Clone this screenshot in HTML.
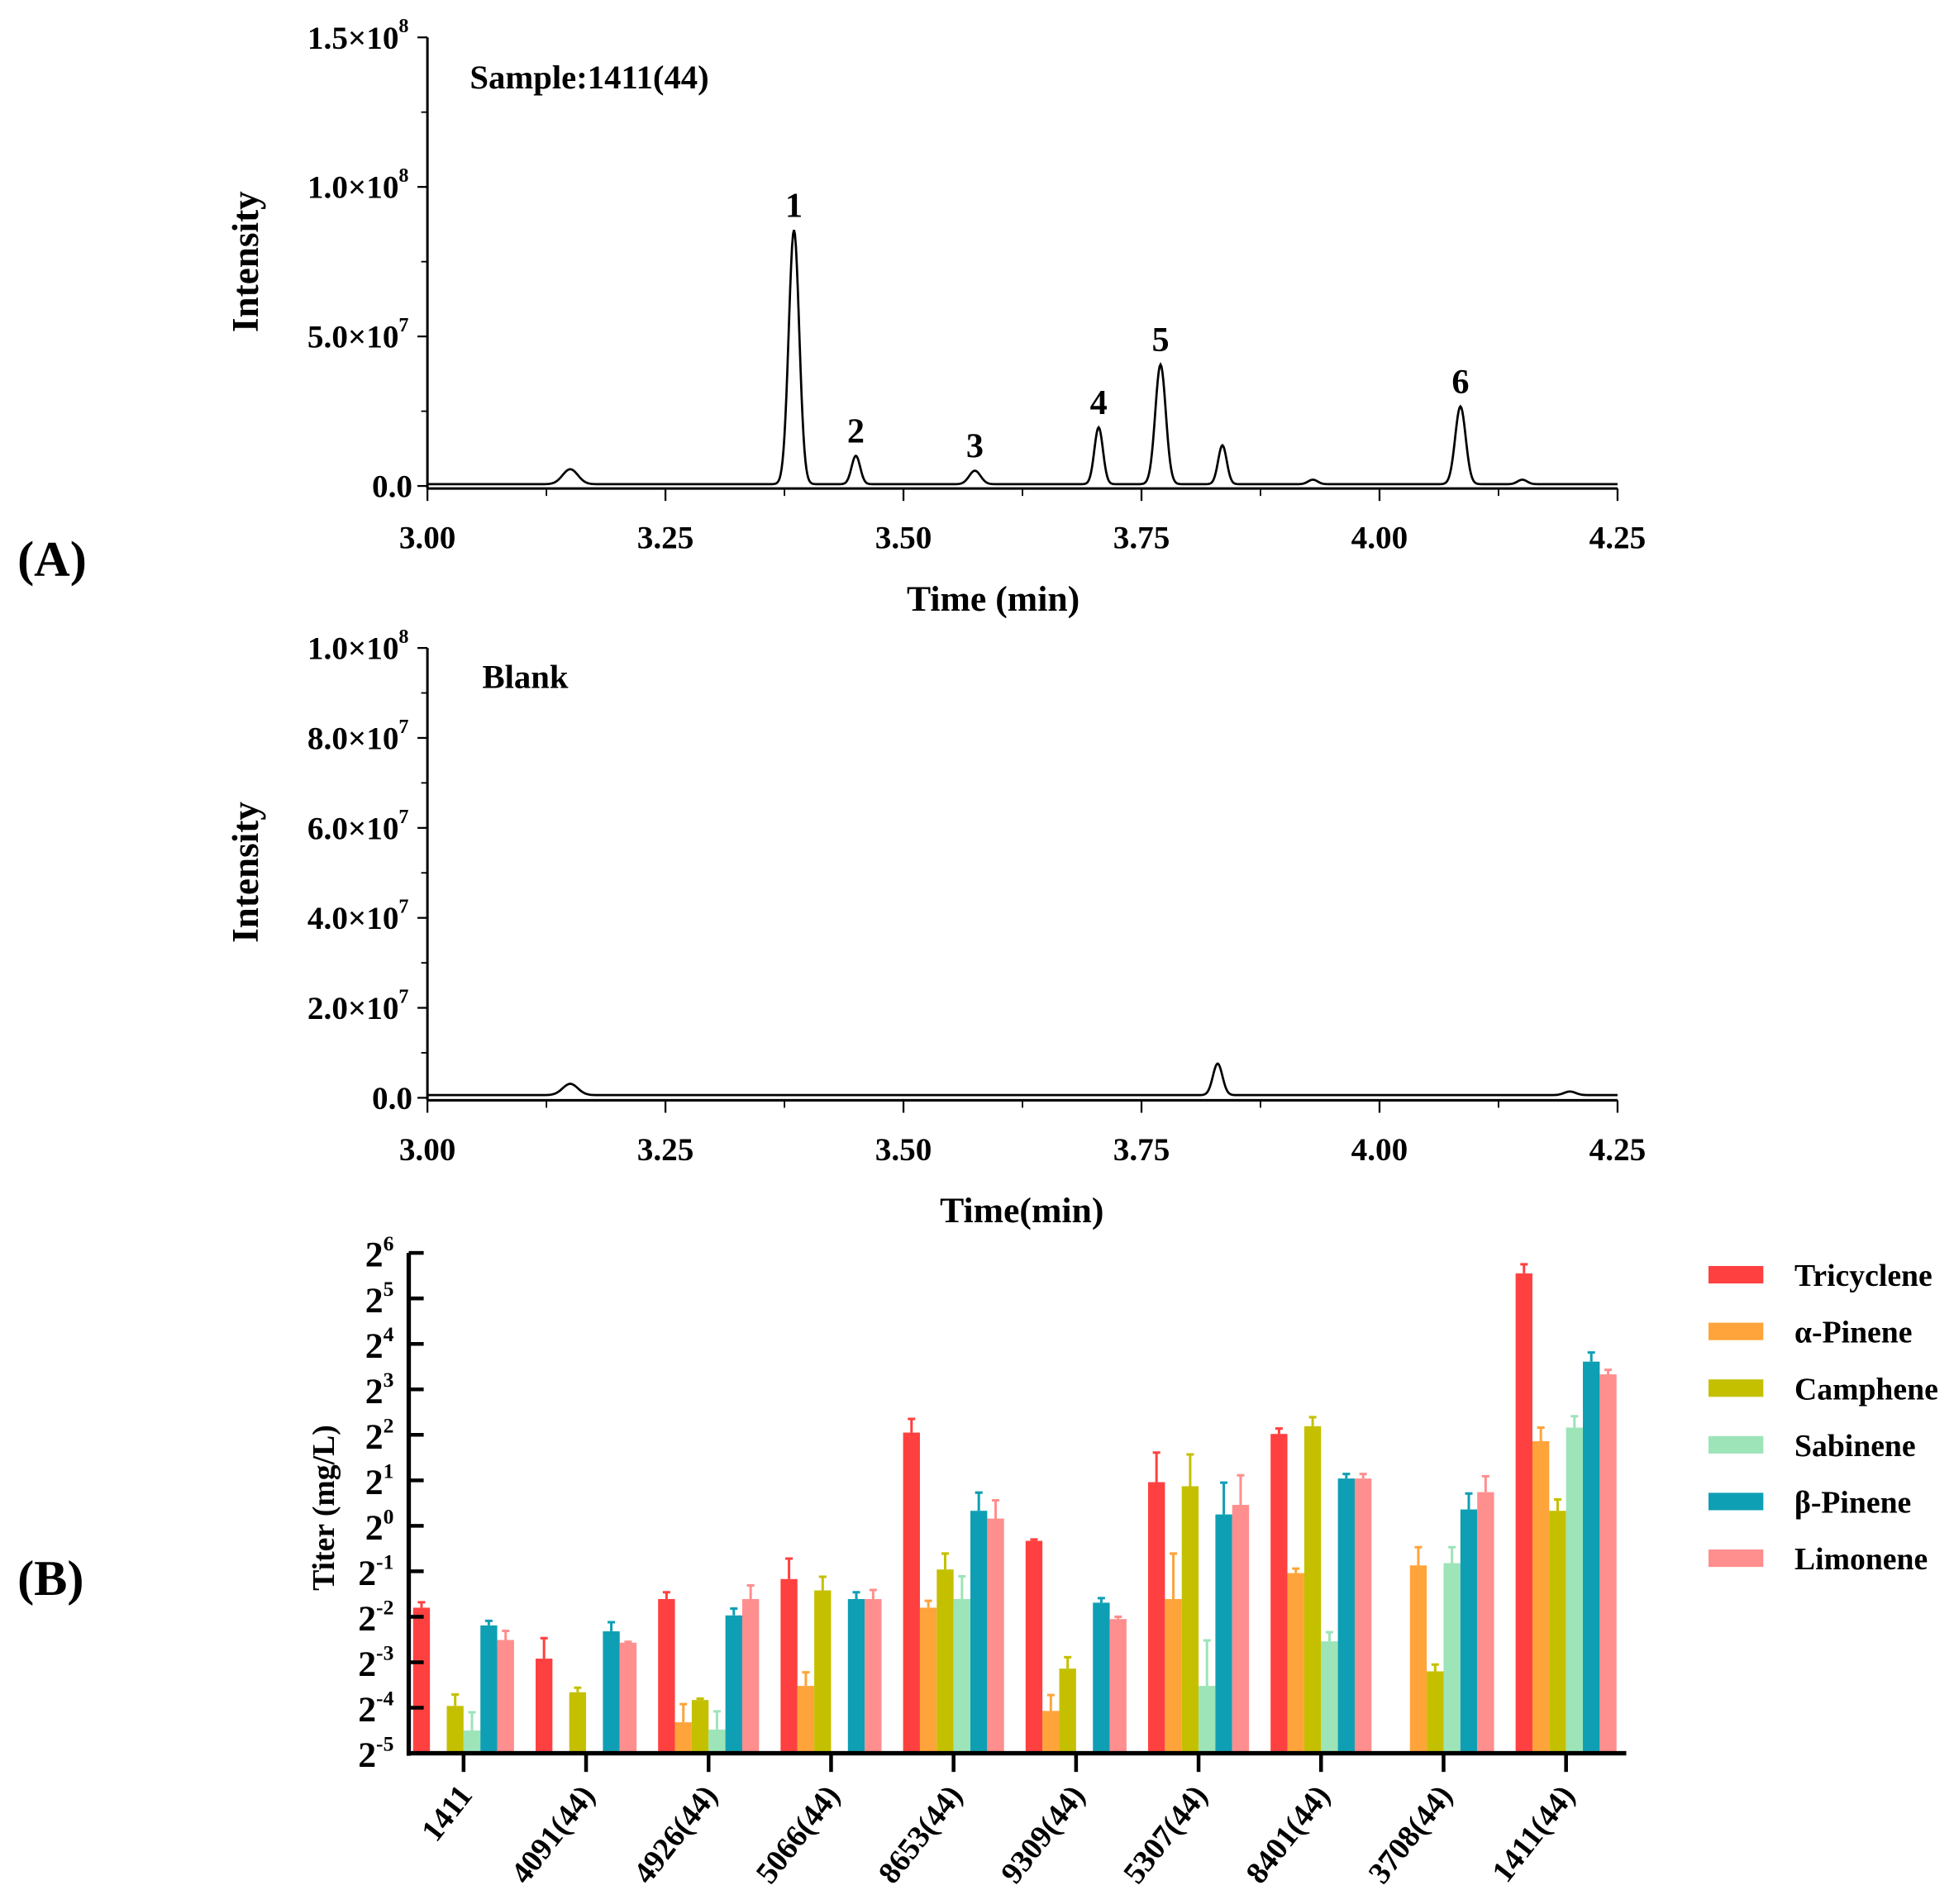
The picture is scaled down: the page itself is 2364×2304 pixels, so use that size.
<!DOCTYPE html>
<html><head><meta charset="utf-8"><style>
html,body{margin:0;padding:0;background:#fff;}
svg{display:block;font-family:"Liberation Serif",serif;font-weight:bold;}
</style></head><body>
<svg id="fig" width="2364" height="2304" viewBox="0 0 1568 1528" preserveAspectRatio="none" xmlns="http://www.w3.org/2000/svg">
<rect width="1568" height="1528" fill="#fff"/>
<text x="14" y="462" font-size="40">(A)</text>
<text x="14" y="1280" font-size="40">(B)</text>
<g id="a1"></g>
<g id="a2"></g>
<g id="b"></g>
</svg>
<script>
// ---- Chromatogram data ----
const sampleTimes = [3.15, 3.385, 3.45, 3.575, 3.705, 3.77, 3.835, 3.93, 4.085, 4.15];
const sampleHeights = [0.5, 8.5, 0.95, 0.45, 1.9, 4.0, 1.3, 0.15, 2.6, 0.15]; // x1e7
const sampleWidths = [0.008, 0.0055, 0.0045, 0.006, 0.0045, 0.0055, 0.0045, 0.005, 0.0055, 0.005];
const peakLabels = ["", "1", "2", "3", "4", "5", "", "", "6", ""];
const blankTimes = [3.15, 3.83, 4.2];
const blankHeights = [0.25, 0.7, 0.08];
const blankWidths = [0.008, 0.005, 0.006];
const xTicksA = [3.00, 3.25, 3.50, 3.75, 4.00, 4.25];
const yTicksA1 = [0, 5, 10, 15];
const yTickLabelsA1 = ["0.0", "5.0×10", "1.0×10", "1.5×10"];
const yTickExpA1 = ["", "7", "8", "8"];
const yTicksA2 = [0, 2, 4, 6, 8, 10];
const yTickLabelsA2 = ["0.0", "2.0×10", "4.0×10", "6.0×10", "8.0×10", "1.0×10"];
const yTickExpA2 = ["", "7", "7", "7", "7", "8"];

// ---- Bar chart data (log2 values) ----
const categories = ["1411","4091(44)","4926(44)","5066(44)","8653(44)","9309(44)","5307(44)","8401(44)","3708(44)","1411(44)"];
const seriesNames = ["Tricyclene","α-Pinene","Camphene","Sabinene","β-Pinene","Limonene"];
const seriesColors = ["#ff4040","#ffa43a","#c4c000","#9de4b8","#0f9fb4","#ff8e8e"];
const tricyclene = [-1.8,-2.92,-1.61,-1.17,2.05,-0.33,0.96,2.02,null,5.55];
const aPinene = [null,null,-4.32,-3.52,-1.8,-4.07,-1.61,-1.04,-0.87,1.86];
const camphene = [-3.96,-3.66,-3.83,-1.42,-0.96,-3.14,0.87,2.19,-3.2,0.33];
const sabinene = [-4.5,null,-4.48,null,-1.61,null,-3.52,-2.54,-0.82,2.16];
const bPinene = [-2.19,-2.32,-1.97,-1.61,0.33,-1.69,0.25,1.04,0.36,3.61];
const limonene = [-2.51,-2.57,-1.61,-1.61,0.16,-2.05,0.46,1.04,0.74,3.33];
const errTricyclene = [0.12,0.45,0.15,0.45,0.3,0.03,0.65,0.12,0,0.2];
const errAPinene = [0,0,0.4,0.3,0.15,0.35,1.0,0.1,0.4,0.3];
const errCamphene = [0.25,0.1,0.03,0.3,0.35,0.25,0.7,0.2,0.15,0.25];
const errSabinene = [0.4,0,0.4,0,0.5,0,1.0,0.2,0.35,0.25];
const errBPinene = [0.1,0.2,0.15,0.15,0.4,0.1,0.7,0.1,0.35,0.2];
const errLimonene = [0.2,0.02,0.3,0.2,0.4,0.05,0.65,0.1,0.35,0.1];
const yTicksB = [-5,-4,-3,-2,-1,0,1,2,3,4,5,6];

const NS="http://www.w3.org/2000/svg";
function mk(parent,tag,attrs,text){const e=document.createElementNS(NS,tag);for(const k in attrs)e.setAttribute(k,attrs[k]);if(text!==undefined)e.textContent=text;parent.appendChild(e);return e;}

function chrom(g,cfg){
  const X=t=>cfg.x0+(t-3)/(1.25)*(cfg.x1-cfg.x0);
  const Y=v=>cfg.y0-v/cfg.vmax*(cfg.y0-cfg.ytop);
  let ax=mk(g,'line',{x1:cfg.x0,y1:cfg.ytop,x2:cfg.x0,y2:cfg.y0+2,stroke:'#000','stroke-width':2});
  
  let bx=mk(g,'line',{x1:cfg.x0,y1:cfg.y0+2,x2:cfg.x1,y2:cfg.y0+2,stroke:'#000','stroke-width':2});
  
  for(let i=0;i<cfg.xt.length;i++){
    const x=X(cfg.xt[i]);
    mk(g,'line',{x1:x,y1:cfg.y0+2,x2:x,y2:cfg.y0+12,stroke:'#000','stroke-width':1.5});
    if(i<cfg.xt.length-1){const xm=X(cfg.xt[i]+0.125);mk(g,'line',{x1:xm,y1:cfg.y0+2,x2:xm,y2:cfg.y0+8,stroke:'#000','stroke-width':1.2});}
    const t=mk(g,'text',{x:x,y:cfg.y0+50,'font-size':26,'text-anchor':'middle'},cfg.xt[i].toFixed(2));
    
  }
  for(let i=0;i<cfg.yt.length;i++){
    const y=Y(cfg.yt[i]);
    mk(g,'line',{x1:cfg.x0-8,y1:y,x2:cfg.x0,y2:y,stroke:'#000','stroke-width':1.5});
    if(i<cfg.yt.length-1){const ym=Y((cfg.yt[i]+cfg.yt[i+1])/2);mk(g,'line',{x1:cfg.x0-5,y1:ym,x2:cfg.x0,y2:ym,stroke:'#000','stroke-width':1.2});}
    const t=mk(g,'text',{x:cfg.x0-12-(cfg.ye[i]?11:0),y:y+9,'font-size':26,'text-anchor':'end'},cfg.yl[i]);
    
    if(cfg.ye[i]){const s=mk(g,'text',{x:cfg.x0-23,y:y-4,'font-size':16},cfg.ye[i]);}
  }
  let d='';
  for(let t=3;t<=4.2501;t+=0.001){
    let v=cfg.base;
    for(let k=0;k<cfg.times.length;k++){const z=(t-cfg.times[k])/cfg.widths[k];v+=cfg.heights[k]*Math.exp(-0.5*z*z);}
    d+=(d?'L':'M')+X(t).toFixed(2)+' '+Y(v).toFixed(2);
  }
  const p=mk(g,'path',{d:d,fill:'none',stroke:'#000','stroke-width':1.8});
  
  if(cfg.labels){for(let k=0;k<cfg.times.length;k++){if(!cfg.labels[k])continue;
    const t=mk(g,'text',{x:X(cfg.times[k]),y:Y(cfg.heights[k])-12,'font-size':28,'text-anchor':'middle'},cfg.labels[k]);
    }}
  const tt=mk(g,'text',{x:cfg.tx,y:cfg.y0+100,'font-size':29,'text-anchor':'middle'},cfg.xtitle);
  
  const yt=mk(g,'text',{x:0,y:0,'font-size':30,'text-anchor':'middle',transform:`translate(207,${cfg.ymid}) rotate(-90)`},'Intensity');
  
  const ti=mk(g,'text',{x:cfg.titleX,y:cfg.titleY,'font-size':27},cfg.title);
  
}
chrom(document.getElementById('a1'),{x0:343,x1:1298,y0:390,ytop:30,vmax:15,base:0.06,times:sampleTimes,heights:sampleHeights,widths:sampleWidths,labels:peakLabels,xt:xTicksA,yt:yTicksA1,yl:yTickLabelsA1,ye:yTickExpA1,xtitle:'Time (min)',tx:797,ymid:210,title:'Sample:1411(44)',titleX:377,titleY:71});
chrom(document.getElementById('a2'),{x0:343,x1:1298,y0:881,ytop:520,vmax:10,base:0.06,times:blankTimes,heights:blankHeights,widths:blankWidths,labels:null,xt:xTicksA,yt:yTicksA2,yl:yTickLabelsA2,ye:yTickExpA2,xtitle:'Time(min)',tx:820,ymid:700,title:'Blank',titleX:387,titleY:552});

(function(){
  const g=document.getElementById('b');
  const x0=328,x1=1305,y0=1407,step=36.5,cx0=372,cstep=98.3,bw=13.5;
  const Y=k=>y0-(k+5)*step;
  const CX=i=>cx0+i*cstep;
  const series=[tricyclene,aPinene,camphene,sabinene,bPinene,limonene];
  const errs=[errTricyclene,errAPinene,errCamphene,errSabinene,errBPinene,errLimonene];
  for(let i=0;i<categories.length;i++){
    for(let s=0;s<series.length;s++){
      const v=series[s][i]; if(v===null) continue;
      const x=CX(i)-3*bw+s*bw;
      const r=mk(g,'rect',{x:x,y:Y(v),width:bw,height:y0-Y(v),fill:seriesColors[s]});
      
      
      const e=errs[s][i];
      if(e>0){const xc=x+bw/2;
        const l=mk(g,'path',{d:`M${xc} ${Y(v)}V${Y(v+e)}M${xc-3} ${Y(v+e)}H${xc+3}`,stroke:seriesColors[s],'stroke-width':2,fill:'none'});
        }
    }
  }
  const ya=mk(g,'line',{x1:x0,y1:Y(6),x2:x0,y2:y0+2,stroke:'#000','stroke-width':3.5});
  
  const xa=mk(g,'line',{x1:x0-1.5,y1:y0,x2:x1,y2:y0,stroke:'#000','stroke-width':3.5});
  
  for(const k of yTicksB){
    const y=Y(k);
    mk(g,'line',{x1:x0,y1:y,x2:x0+12,y2:y,stroke:'#000','stroke-width':3});
    const t=mk(g,'text',{x:316,y:y+11,'font-size':29,'text-anchor':'end'});
    
    mk(t,'tspan',{},'2');
    mk(t,'tspan',{dy:-13,'font-size':17},String(k));
  }
  for(let i=0;i<categories.length;i++){
    const x=CX(i);
    mk(g,'line',{x1:x,y1:y0,x2:x,y2:y0+15,stroke:'#000','stroke-width':3});
    const t=mk(g,'text',{x:0,y:0,'font-size':25,'text-anchor':'end',transform:`translate(${x+8},${y0+34}) rotate(-52)`},categories[i]);
    
  }
  const yt=mk(g,'text',{x:0,y:0,'font-size':25,'text-anchor':'middle',transform:'translate(268,1210) rotate(-90)'},'Titer (mg/L)');
  
  for(let s=0;s<seriesNames.length;s++){
    const y=1023+s*45.5;
    const r=mk(g,'rect',{x:1371,y:y-7,width:44,height:14,fill:seriesColors[s]});
    
    const t=mk(g,'text',{x:1440,y:y+9,'font-size':25},seriesNames[s]);
    
  }
})();
</script>
</body></html>
